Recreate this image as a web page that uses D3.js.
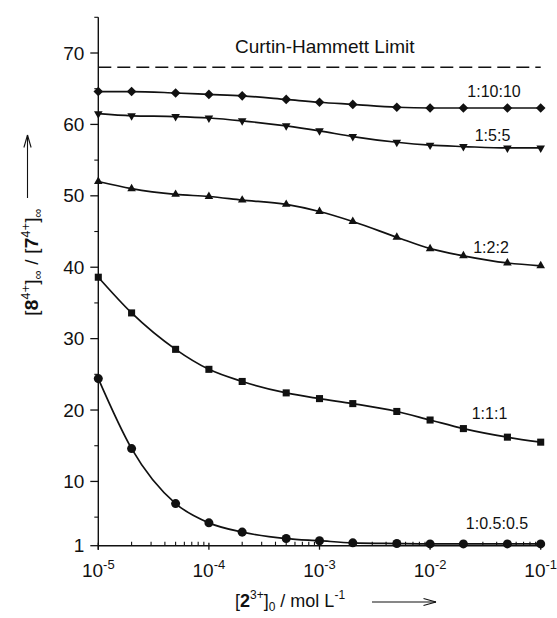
<!DOCTYPE html>
<html>
<head>
<meta charset="utf-8">
<script src="https://cdn.jsdelivr.net/npm/d3@7"></script>
<style>
  html, body { margin: 0; padding: 0; background: #fff; }
  svg { display: block; font-family: "Liberation Sans", Arial, sans-serif; }
</style>
</head>
<body>
<div id="chart"></div>
<script>
// concentration of 2^3+ (mol/L), shared by every series
const concentrations = [1e-5, 2e-5, 5e-5, 1e-4, 2e-4, 5e-4, 1e-3, 2e-3, 5e-3, 1e-2, 2e-2, 5e-2, 1e-1];

// [8^4+] / [7^4+] ratio
const ratio_1_10_10 = [64.6, 64.6, 64.4, 64.2, 64.0, 63.5, 63.1, 62.8, 62.4, 62.3, 62.3, 62.3, 62.3];
const ratio_1_5_5 = [61.5, 61.2, 61.1, 60.9, 60.5, 59.8, 59.1, 58.3, 57.5, 57.1, 56.9, 56.7, 56.7];
const ratio_1_2_2 = [52.0, 51.0, 50.2, 49.9, 49.4, 48.8, 47.8, 46.4, 44.2, 42.6, 41.6, 40.6, 40.2];
const ratio_1_1_1 = [38.6, 33.6, 28.5, 25.7, 24.0, 22.4, 21.6, 20.9, 19.8, 18.6, 17.4, 16.2, 15.5];
const ratio_1_05_05 = [24.4, 14.6, 6.9, 4.2, 2.9, 2.0, 1.7, 1.4, 1.3, 1.25, 1.25, 1.25, 1.25];

const seriesNames = ["1:10:10", "1:5:5", "1:2:2", "1:1:1", "1:0.5:0.5"];
const seriesValues = [ratio_1_10_10, ratio_1_5_5, ratio_1_2_2, ratio_1_1_1, ratio_1_05_05];

const CURTIN_HAMMETT = 68;

const yMajorTicks = [1, 10, 20, 30, 40, 50, 60, 70];
const yMinorTicks = [5, 15, 25, 35, 45, 55, 65, 75];
const xMajorExponents = [-5, -4, -3, -2, -1];

const W = 557, H = 618;

const svg = d3.select("#chart").append("svg")
  .attr("width", W)
  .attr("height", H)
  .attr("viewBox", `0 0 ${W} ${H}`);

const x = d3.scaleLog().domain([1e-5, 1e-1]).range([98.3, 540.7]);
const y = d3.scaleLinear().domain([1, 75]).range([545.7, 17.3]);

const ink = "#111";

// ---- axes ----
const gy = svg.append("g");
gy.append("line")
  .attr("x1", x(1e-5)).attr("x2", x(1e-5))
  .attr("y1", y(75)).attr("y2", y(1) + 4)
  .attr("stroke", ink).attr("stroke-width", 1.4);

gy.selectAll("line.major").data(yMajorTicks).join("line")
  .attr("class", "major")
  .attr("x1", x(1e-5) - 8).attr("x2", x(1e-5))
  .attr("y1", (d) => y(d)).attr("y2", (d) => y(d))
  .attr("stroke", ink).attr("stroke-width", 1.3);

gy.selectAll("line.minor").data(yMinorTicks).join("line")
  .attr("class", "minor")
  .attr("x1", x(1e-5) - 4).attr("x2", x(1e-5))
  .attr("y1", (d) => y(d)).attr("y2", (d) => y(d))
  .attr("stroke", ink).attr("stroke-width", 1.1);

gy.selectAll("text").data(yMajorTicks).join("text")
  .attr("x", x(1e-5) - 14)
  .attr("y", (d) => y(d))
  .attr("dy", "0.35em")
  .attr("text-anchor", "end")
  .attr("font-size", 19)
  .attr("fill", ink)
  .text((d) => d);

const gx = svg.append("g");
gx.append("line")
  .attr("x1", x(1e-5)).attr("x2", x(1e-1))
  .attr("y1", y(1)).attr("y2", y(1))
  .attr("stroke", ink).attr("stroke-width", 1.4);

const xMinor = [];
for (const e of xMajorExponents.slice(0, -1)) {
  for (let m = 2; m <= 9; m++) xMinor.push(m * Math.pow(10, e));
}

gx.selectAll("line.minor").data(xMinor).join("line")
  .attr("class", "minor")
  .attr("x1", (d) => x(d)).attr("x2", (d) => x(d))
  .attr("y1", y(1) - 4).attr("y2", y(1))
  .attr("stroke", ink).attr("stroke-width", 1.1);

gx.selectAll("line.major").data(xMajorExponents.map((e) => Math.pow(10, e))).join("line")
  .attr("class", "major")
  .attr("x1", (d) => x(d)).attr("x2", (d) => x(d))
  .attr("y1", y(1) - 3).attr("y2", y(1) + 4)
  .attr("stroke", ink).attr("stroke-width", 1.3);

const xLabels = gx.selectAll("text").data(xMajorExponents).join("text")
  .attr("x", (e) => x(Math.pow(10, e)))
  .attr("y", 577)
  .attr("text-anchor", "middle")
  .attr("font-size", 19)
  .attr("fill", ink);
xLabels.append("tspan").text("10");
xLabels.append("tspan")
  .attr("font-size", 13)
  .attr("dy", -8)
  .text((e) => e);

// ---- axis titles ----
const xTitle = svg.append("text")
  .attr("x", 290).attr("y", 607)
  .attr("text-anchor", "middle")
  .attr("font-size", 18)
  .attr("fill", ink);
xTitle.append("tspan").text("[");
xTitle.append("tspan").attr("font-weight", "bold").text("2");
xTitle.append("tspan").attr("font-size", 12).attr("dy", -8).text("3+");
xTitle.append("tspan").attr("dy", 8).text("]");
xTitle.append("tspan").attr("font-size", 12).attr("dy", 4).text("0");
xTitle.append("tspan").attr("dy", -4).text(" / mol L");
xTitle.append("tspan").attr("font-size", 12).attr("dy", -8).text("-1");

function arrow(g, x1, y1, x2, y2) {
  const a = Math.atan2(y2 - y1, x2 - x1);
  const len = 13, spread = 0.28;
  g.append("line")
    .attr("x1", x1).attr("y1", y1).attr("x2", x2).attr("y2", y2)
    .attr("stroke", ink).attr("stroke-width", 1.1);
  for (const s of [-1, 1]) {
    g.append("line")
      .attr("x1", x2).attr("y1", y2)
      .attr("x2", x2 - len * Math.cos(a + s * spread))
      .attr("y2", y2 - len * Math.sin(a + s * spread))
      .attr("stroke", ink).attr("stroke-width", 1.1);
  }
}

arrow(svg, 372, 602, 436, 602);

const yTitleG = svg.append("g").attr("transform", "translate(37.5,262) rotate(-90)");
const yTitle = yTitleG.append("text")
  .attr("text-anchor", "middle")
  .attr("font-size", 19)
  .attr("letter-spacing", 0.2)
  .attr("fill", ink);
yTitle.append("tspan").text("[");
yTitle.append("tspan").attr("font-weight", "bold").text("8");
yTitle.append("tspan").attr("font-size", 12.5).attr("dy", -8).text("4+");
yTitle.append("tspan").attr("dy", 8).text("]");
yTitle.append("tspan").attr("font-size", 12.5).attr("dy", 4).text("∞");
yTitle.append("tspan").attr("dy", -4).text(" / [");
yTitle.append("tspan").attr("font-weight", "bold").text("7");
yTitle.append("tspan").attr("font-size", 12.5).attr("dy", -8).text("4+");
yTitle.append("tspan").attr("dy", 8).text("]");
yTitle.append("tspan").attr("font-size", 12.5).attr("dy", 4).text("∞");

arrow(svg, 27.5, 198, 27.5, 135);

// ---- Curtin-Hammett limit ----
svg.append("line")
  .attr("x1", x(1e-5)).attr("x2", x(1e-1))
  .attr("y1", y(CURTIN_HAMMETT)).attr("y2", y(CURTIN_HAMMETT))
  .attr("stroke", ink).attr("stroke-width", 1.5)
  .attr("stroke-dasharray", "13,6");

svg.append("text")
  .attr("x", 235).attr("y", 53)
  .attr("font-size", 19)
  .attr("fill", ink)
  .text("Curtin-Hammett Limit");

// ---- series ----
const symbols = [d3.symbolSquare, d3.symbolTriangle, d3.symbolTriangle, d3.symbolSquare, d3.symbolCircle];
const symbolSizes = [46, 32, 32, 50, 64];
const symbolRotate = [45, 180, 0, 0, 0];
// label placement (centre x, baseline y) in px
const labelPos = [[494, 97], [492.5, 141], [491, 253], [489.5, 418.5], [497, 528.5]];

const line = d3.line()
  .x((d) => x(d[0]))
  .y((d) => y(d[1]))
  .curve(d3.curveMonotoneX);

seriesValues.forEach((vals, i) => {
  const pts = concentrations.map((c, j) => [c, vals[j]]);
  const g = svg.append("g");

  g.append("path")
    .datum(pts)
    .attr("d", line)
    .attr("fill", "none")
    .attr("stroke", ink)
    .attr("stroke-width", 1.7);

  const sym = d3.symbol().type(symbols[i]).size(symbolSizes[i]);
  g.selectAll("path.mark").data(pts).join("path")
    .attr("class", "mark")
    .attr("d", sym)
    .attr("transform", (d) => {
      let t = `translate(${x(d[0])},${y(d[1])})`;
      if (symbolRotate[i]) t += ` rotate(${symbolRotate[i]})`;
      return t;
    })
    .attr("fill", ink);

  svg.append("text")
    .attr("x", labelPos[i][0]).attr("y", labelPos[i][1])
    .attr("text-anchor", "middle")
    .attr("font-size", 16)
    .attr("fill", ink)
    .text(seriesNames[i]);
});
</script>
</body>
</html>
